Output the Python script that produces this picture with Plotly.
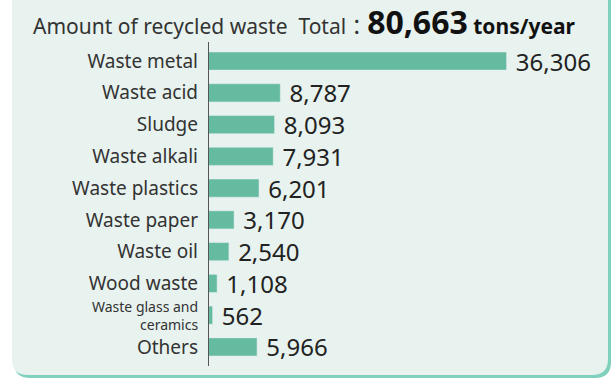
import plotly.graph_objects as go

# Recycled waste amounts (tons/year)
categories = [
    "Waste metal", "Waste acid", "Sludge", "Waste alkali", "Waste plastics",
    "Waste paper", "Waste oil", "Wood waste", "Waste glass and ceramics",
    "Others",
]
values = [36306, 8787, 8093, 7931, 6201, 3170, 2540, 1108, 562, 5966]
split_label = "Waste glass and<br>ceramics"   # drawn smaller, on two lines
total_label = "80,663"

W, H = 612, 378
FONT = "Noto Sans, Noto Sans CJK JP"
BAR = "#64bb9f"
PANEL = "#e8f2ee"
EDGE = "#7fd0bd"


def px(x):
    return x / W


def py(y):
    return 1 - y / H


def rounded_rect(x0, y0, x1, y1, r):
    rx, ry = r / W, r / H
    X0, X1, Y0, Y1 = px(x0), px(x1), py(y0), py(y1)
    return (f"M{X0 + rx},{Y0} L{X1 - rx},{Y0} Q{X1},{Y0} {X1},{Y0 - ry} "
            f"L{X1},{Y1 + ry} Q{X1},{Y1} {X1 - rx},{Y1} "
            f"L{X0 + rx},{Y1} Q{X0},{Y1} {X0},{Y1 + ry} "
            f"L{X0},{Y0 - ry} Q{X0},{Y0} {X0 + rx},{Y0} Z")


fig = go.Figure(go.Bar(
    x=values,
    y=categories,
    orientation="h",
    width=0.57,
    marker_color=BAR,
    texttemplate="\u00a0%{x:,}",
    textposition="outside",
    constraintext="none",
    textfont=dict(size=24, color="#222"),
    cliponaxis=False,
    hoverinfo="skip",
))

tick_text = ["" if c == categories[8] else c for c in categories]

fig.update_layout(
    width=W, height=H,
    margin=dict(l=0, r=0, t=0, b=0),
    paper_bgcolor="white",
    plot_bgcolor="rgba(0,0,0,0)",
    font=dict(family=FONT, color="#333"),
    showlegend=False,
    shapes=[
        dict(type="path", xref="paper", yref="paper", layer="below",
             path=rounded_rect(14, -30, 611, 378, 16),
             fillcolor=EDGE, line_width=0),
        dict(type="path", xref="paper", yref="paper", layer="below",
             path=rounded_rect(12, -30, 608, 375, 16),
             fillcolor=PANEL, line_width=0),
        dict(type="line", xref="paper", yref="paper",
             x0=px(208.5), x1=px(208.5), y0=py(42), y1=py(366),
             line=dict(color="#555", width=1)),
    ],
    annotations=[
        dict(xref="paper", yref="paper", x=px(31), y=py(22),
             xanchor="left", yanchor="middle", showarrow=False,
             font=dict(size=21, color="#333"),
             text=("Amount of recycled waste  Total："
                   f"<b><span style='font-size:32px;color:#111'>{total_label}</span></b> "
                   "<b><span style='color:#111'>tons/year</span></b>")),
        dict(xref="paper", yref="y", x=px(199), y=categories[8], yshift=0,
             xanchor="right", yanchor="middle", align="right", showarrow=False,
             borderpad=0, font=dict(size=14, color="#333"), text=split_label),
    ],
)

fig.update_xaxes(domain=[px(208), px(532)], range=[0, 39400],
                 visible=False, fixedrange=True)
fig.update_yaxes(domain=[py(366), py(42)], range=[9.6, -0.6],
                 showgrid=False, zeroline=False, showline=False,
                 ticks="", ticklabelstandoff=9, fixedrange=True,
                 tickvals=categories, ticktext=tick_text,
                 tickfont=dict(size=19, color="#333"))

fig.write_html("out.html", config={"displayModeBar": False},
               post_script="document.body.style.margin='0';")
